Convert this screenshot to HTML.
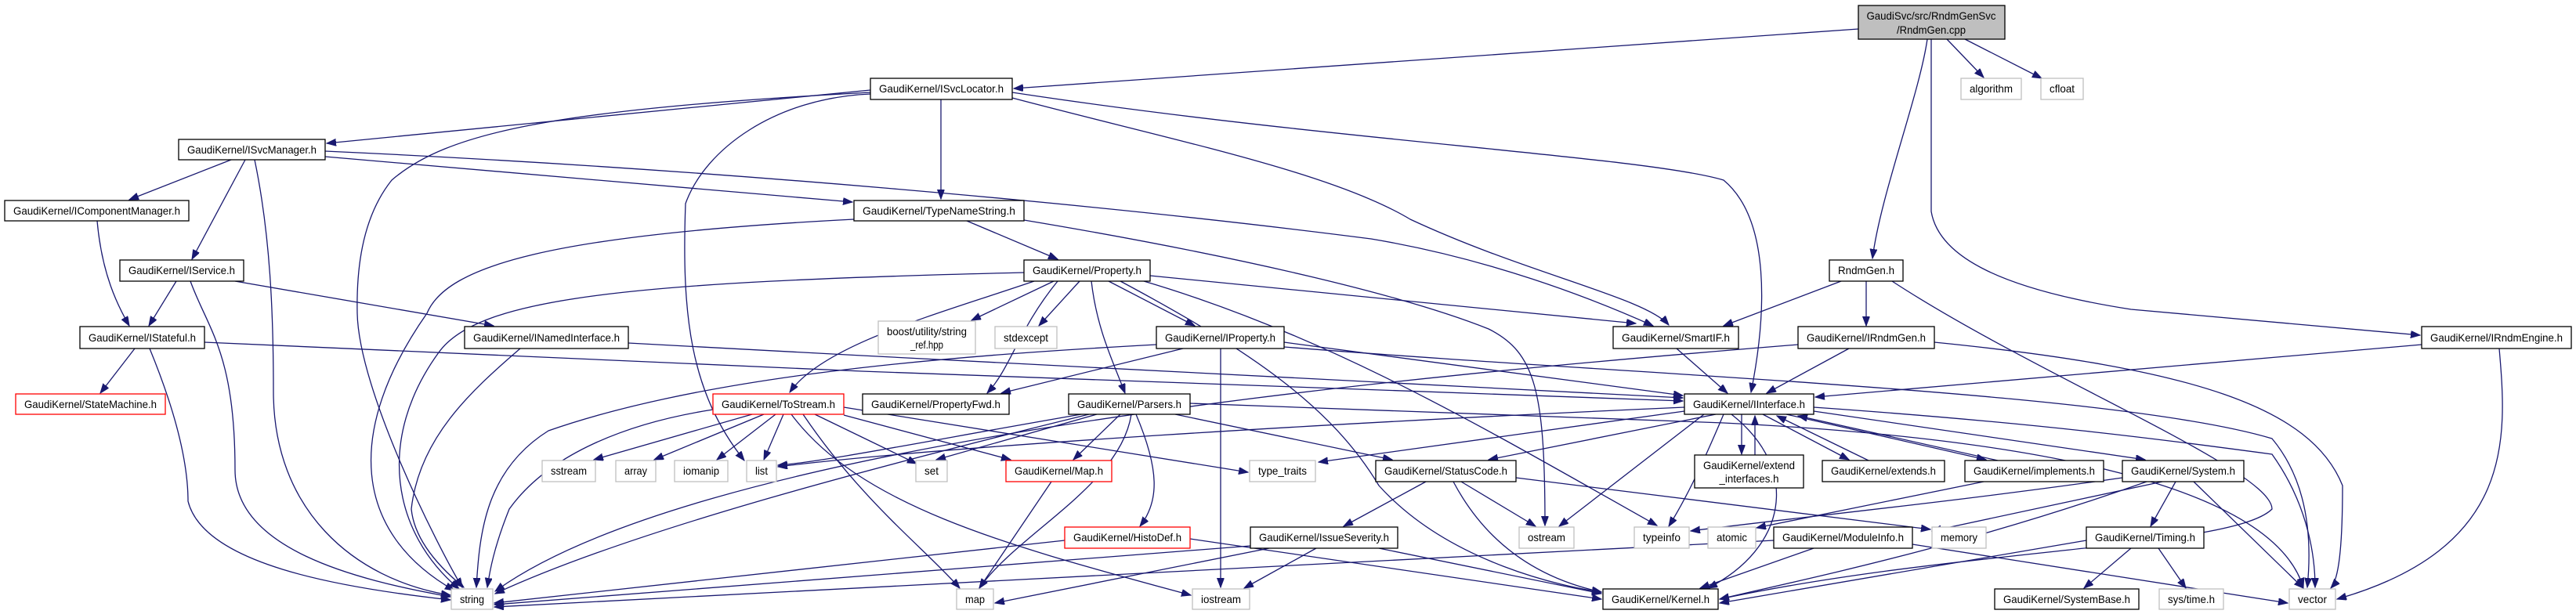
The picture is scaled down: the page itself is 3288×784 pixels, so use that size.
<!DOCTYPE html>
<html><head><meta charset="utf-8"><style>
html,body{margin:0;padding:0;background:#fff;}
svg{display:block}
text{font-family:"Liberation Sans",sans-serif;font-size:14px;fill:#000;text-anchor:middle}
.e{fill:none;stroke:#191970;stroke-width:1.3}
.n{fill:#fff;stroke:#000;stroke-width:1.3}
.g{fill:#fff;stroke:#bfbfbf;stroke-width:1.3}
.r{fill:#fff;stroke:#ff0000;stroke-width:1.3}
</style></head><body>
<svg width="3288" height="784" viewBox="0 0 3288 784" xmlns="http://www.w3.org/2000/svg">
<defs><marker id="a" markerUnits="userSpaceOnUse" markerWidth="13" markerHeight="10" refX="12" refY="4.5" orient="auto"><path d="M0,0 L12,4.5 L0,9 z" fill="#191970" stroke="#191970"/></marker></defs>
<g marker-end="url(#a)">
<path class="e" d="M2372,37 L1294,113"/>
<path class="e" d="M2460,50 C2450,120 2400,250 2390,330"/>
<path class="e" d="M2485,50 L2532,99"/>
<path class="e" d="M2508,50 L2606,100"/>
<path class="e" d="M2465,50 L2465,270 C2475,330 2560,370 2720,395 L3089,428"/>
<path class="e" d="M1111,115 L417,183"/>
<path class="e" d="M1201,127 L1201,254"/>
<path class="e" d="M1111,118 C700,140 570,170 500,230 C460,280 455,350 456,400 C458,500 560,700 590,750"/>
<path class="e" d="M1111,120 C990,125 900,190 875,260 C870,400 880,500 950,588"/>
<path class="e" d="M1292,125 C1500,180 1700,220 1800,280 C1950,350 2100,380 2130,415"/>
<path class="e" d="M1292,118 C1700,180 2100,200 2200,230 C2260,280 2255,400 2235,501"/>
<path class="e" d="M295,204 L165,255"/>
<path class="e" d="M313,204 L245,331"/>
<path class="e" d="M325,204 C345,300 349,400 349,500 C349,650 450,740 575,760"/>
<path class="e" d="M415,200 L1088,258"/>
<path class="e" d="M415,193 C900,215 1400,260 1750,305 C1900,330 2030,380 2110,416"/>
<path class="e" d="M124,282 C130,350 150,390 165,416"/>
<path class="e" d="M225,359 L190,416"/>
<path class="e" d="M300,359 L630,416"/>
<path class="e" d="M243,359 C265,420 300,450 300,600 C300,700 450,740 575,762"/>
<path class="e" d="M172,445 L128,502"/>
<path class="e" d="M191,445 C230,540 240,600 240,640 C260,720 430,750 575,766"/>
<path class="e" d="M261,437 L1100,474 C1600,495 2000,505 2148,512"/>
<path class="e" d="M802,438 L1100,454 C1600,480 2000,500 2148,508"/>
<path class="e" d="M664,445 C600,500 535,560 525,650 C530,700 580,740 592,750"/>
<path class="e" d="M1234,282 L1350,331"/>
<path class="e" d="M1090,280 C700,300 570,340 545,400 C440,550 450,680 580,754"/>
<path class="e" d="M1307,281 C1600,330 1800,380 1900,420 C1960,450 1972,500 1972,671"/>
<path class="e" d="M1307,348 C800,360 610,380 560,450 C480,560 500,680 586,752"/>
<path class="e" d="M1345,359 L1240,409"/>
<path class="e" d="M1378,359 L1326,416"/>
<path class="e" d="M1415,359 L1525,416"/>
<path class="e" d="M1350,359 C1300,420 1290,470 1260,502"/>
<path class="e" d="M1393,359 C1400,420 1420,460 1436,502"/>
<path class="e" d="M1320,359 C1200,400 1050,440 1008,501"/>
<path class="e" d="M1468,352 L2088,413"/>
<path class="e" d="M1460,359 C1700,430 1900,550 2115,671"/>
<path class="e" d="M1430,359 C1600,450 1700,520 1760,620 C1850,720 2000,750 2044,756"/>
<path class="e" d="M1510,445 L1278,502"/>
<path class="e" d="M1558,445 L1558,750"/>
<path class="e" d="M1639,437 L2148,505"/>
<path class="e" d="M1476,440 C1200,455 900,480 700,550 C620,600 612,680 608,750"/>
<path class="e" d="M1639,443 C2100,480 2700,500 2900,560 C2950,620 2950,700 2945,750"/>
<path class="e" d="M1400,529 L1195,587"/>
<path class="e" d="M1430,529 L1370,587"/>
<path class="e" d="M1500,529 L1777,587"/>
<path class="e" d="M1450,529 C1480,600 1480,640 1455,672"/>
<path class="e" d="M1390,529 C1100,600 800,680 632,758"/>
<path class="e" d="M1380,529 C1200,560 1050,590 993,594"/>
<path class="e" d="M1444,529 C1430,620 1300,680 1250,751"/>
<path class="e" d="M1519,515 L2200,540 C2600,560 2900,620 2940,750"/>
<path class="e" d="M960,529 L758,587"/>
<path class="e" d="M975,529 L835,587"/>
<path class="e" d="M990,529 L915,587"/>
<path class="e" d="M1000,529 L975,587"/>
<path class="e" d="M910,523 C800,540 700,580 650,650 C630,700 625,730 622,750"/>
<path class="e" d="M1040,529 L1170,592"/>
<path class="e" d="M1077,530 L1290,587"/>
<path class="e" d="M1077,520 L1593,603"/>
<path class="e" d="M1025,529 C1100,640 1180,700 1225,751"/>
<path class="e" d="M1010,529 C1100,650 1300,700 1520,760"/>
<path class="e" d="M1342,615 L1250,751"/>
<path class="e" d="M1519,688 L2044,765"/>
<path class="e" d="M1359,690 L631,770"/>
<path class="e" d="M1620,700 L1270,770"/>
<path class="e" d="M1680,700 L1588,751"/>
<path class="e" d="M1760,700 L2044,758"/>
<path class="e" d="M1596,697 L631,772"/>
<path class="e" d="M1820,615 L1715,672"/>
<path class="e" d="M1865,615 L1960,672"/>
<path class="e" d="M1855,615 C1900,700 1970,740 2044,756"/>
<path class="e" d="M1935,610 L2464,676"/>
<path class="e" d="M2223,529 L2223,580"/>
<path class="e" d="M2240,581 L2240,531"/>
<path class="e" d="M2250,529 L2360,587"/>
<path class="e" d="M2385,588 L2268,531"/>
<path class="e" d="M2280,529 L2535,587"/>
<path class="e" d="M2550,588 L2295,531"/>
<path class="e" d="M2315,525 L2738,587"/>
<path class="e" d="M2190,529 L1900,587"/>
<path class="e" d="M2150,525 L1683,590"/>
<path class="e" d="M2175,529 L1990,672"/>
<path class="e" d="M2200,529 C2170,600 2150,640 2130,672"/>
<path class="e" d="M2315,520 C2600,540 2750,560 2900,580 C2950,650 2955,720 2955,750"/>
<path class="e" d="M2210,529 C2300,600 2280,700 2180,751"/>
<path class="e" d="M2150,520 C1700,540 1200,570 993,596"/>
<path class="e" d="M2740,615 C2500,700 2300,740 2195,765"/>
<path class="e" d="M2777,615 L2745,672"/>
<path class="e" d="M2800,615 L2940,751"/>
<path class="e" d="M2532,615 L2242,674"/>
<path class="e" d="M2760,615 L2466,678"/>
<path class="e" d="M2709,610 C2500,640 2300,660 2158,678"/>
<path class="e" d="M2720,700 L2660,751"/>
<path class="e" d="M2755,700 L2790,751"/>
<path class="e" d="M2663,690 L2195,770"/>
<path class="e" d="M2315,700 L2170,751"/>
<path class="e" d="M2264,690 L631,775"/>
<path class="e" d="M2441,695 L2920,770"/>
<path class="e" d="M2360,445 L2255,502"/>
<path class="e" d="M2469,437 C2800,470 2950,520 2990,620 C2990,700 2985,740 2975,751"/>
<path class="e" d="M2295,440 C1800,480 900,560 632,755"/>
<path class="e" d="M3091,440 L2317,507"/>
<path class="e" d="M3190,445 C3200,560 3210,700 2983,765"/>
<path class="e" d="M2350,359 L2200,416"/>
<path class="e" d="M2382,359 L2382,416"/>
<path class="e" d="M2415,359 C2600,480 2900,600 2900,650 C2850,700 2500,700 2195,765"/>
<path class="e" d="M2140,445 L2205,502"/>
</g>
<!-- nodes -->
<rect x="2372" y="7" width="187" height="43" fill="#bfbfbf" stroke="#000" stroke-width="1.3"/>
<text x="2465" y="25" textLength="165" lengthAdjust="spacingAndGlyphs">GaudiSvc/src/RndmGenSvc</text>
<text x="2465" y="43" textLength="88" lengthAdjust="spacingAndGlyphs">/RndmGen.cpp</text>

<rect class="n" x="1111" y="100" width="181" height="27"/><text x="1201.5" y="118" textLength="159" lengthAdjust="spacingAndGlyphs">GaudiKernel/ISvcLocator.h</text>
<rect class="g" x="2503" y="100" width="77" height="27"/><text x="2541.5" y="118" textLength="55" lengthAdjust="spacingAndGlyphs">algorithm</text>
<rect class="g" x="2605" y="100" width="54" height="27"/><text x="2632" y="118" textLength="32" lengthAdjust="spacingAndGlyphs">cfloat</text>
<rect class="n" x="228" y="178" width="187" height="26"/><text x="321.5" y="196" textLength="165" lengthAdjust="spacingAndGlyphs">GaudiKernel/ISvcManager.h</text>
<rect class="n" x="6" y="256" width="235" height="26"/><text x="123.5" y="274" textLength="213" lengthAdjust="spacingAndGlyphs">GaudiKernel/IComponentManager.h</text>
<rect class="n" x="1090" y="256" width="217" height="26"/><text x="1198.5" y="274" textLength="195" lengthAdjust="spacingAndGlyphs">GaudiKernel/TypeNameString.h</text>
<rect class="n" x="153" y="332" width="158" height="27"/><text x="232" y="350" textLength="136" lengthAdjust="spacingAndGlyphs">GaudiKernel/IService.h</text>
<rect class="n" x="1307" y="332" width="161" height="27"/><text x="1387.5" y="350" textLength="139" lengthAdjust="spacingAndGlyphs">GaudiKernel/Property.h</text>
<rect class="n" x="2335" y="332" width="94" height="27"/><text x="2382" y="350" textLength="72" lengthAdjust="spacingAndGlyphs">RndmGen.h</text>
<rect class="n" x="102" y="417" width="159" height="28"/><text x="181.5" y="436" textLength="137" lengthAdjust="spacingAndGlyphs">GaudiKernel/IStateful.h</text>
<rect class="n" x="593" y="417" width="209" height="28"/><text x="697.5" y="436" textLength="187" lengthAdjust="spacingAndGlyphs">GaudiKernel/INamedInterface.h</text>
<rect class="g" x="1121" y="410" width="124" height="42"/><text x="1183" y="428" textLength="102" lengthAdjust="spacingAndGlyphs">boost/utility/string</text><text x="1183" y="445" textLength="42" lengthAdjust="spacingAndGlyphs">_ref.hpp</text>
<rect class="g" x="1270" y="417" width="79" height="28"/><text x="1309.5" y="436" textLength="57" lengthAdjust="spacingAndGlyphs">stdexcept</text>
<rect class="n" x="1476" y="417" width="163" height="28"/><text x="1557.5" y="436" textLength="141" lengthAdjust="spacingAndGlyphs">GaudiKernel/IProperty.h</text>
<rect class="n" x="2059" y="417" width="160" height="28"/><text x="2139" y="436" textLength="138" lengthAdjust="spacingAndGlyphs">GaudiKernel/SmartIF.h</text>
<rect class="n" x="2295" y="417" width="174" height="28"/><text x="2382" y="436" textLength="152" lengthAdjust="spacingAndGlyphs">GaudiKernel/IRndmGen.h</text>
<rect class="n" x="3091" y="417" width="191" height="28"/><text x="3186.5" y="436" textLength="169" lengthAdjust="spacingAndGlyphs">GaudiKernel/IRndmEngine.h</text>
<rect class="r" x="20" y="503" width="191" height="26"/><text x="115.5" y="521" textLength="169" lengthAdjust="spacingAndGlyphs">GaudiKernel/StateMachine.h</text>
<rect class="r" x="910" y="503" width="167" height="26"/><text x="993.5" y="521" textLength="145" lengthAdjust="spacingAndGlyphs">GaudiKernel/ToStream.h</text>
<rect class="n" x="1101" y="503" width="187" height="26"/><text x="1194.5" y="521" textLength="165" lengthAdjust="spacingAndGlyphs">GaudiKernel/PropertyFwd.h</text>
<rect class="n" x="1364" y="503" width="155" height="26"/><text x="1441.5" y="521" textLength="133" lengthAdjust="spacingAndGlyphs">GaudiKernel/Parsers.h</text>
<rect class="n" x="2150" y="503" width="165" height="26"/><text x="2232.5" y="521" textLength="143" lengthAdjust="spacingAndGlyphs">GaudiKernel/IInterface.h</text>
<rect class="g" x="692" y="588" width="68" height="27"/><text x="726" y="606" textLength="46" lengthAdjust="spacingAndGlyphs">sstream</text>
<rect class="g" x="786" y="588" width="51" height="27"/><text x="811.5" y="606" textLength="29" lengthAdjust="spacingAndGlyphs">array</text>
<rect class="g" x="861" y="588" width="68" height="27"/><text x="895" y="606" textLength="46" lengthAdjust="spacingAndGlyphs">iomanip</text>
<rect class="g" x="953" y="588" width="38" height="27"/><text x="972" y="606" textLength="16" lengthAdjust="spacingAndGlyphs">list</text>
<rect class="g" x="1169" y="588" width="40" height="27"/><text x="1189" y="606" textLength="18" lengthAdjust="spacingAndGlyphs">set</text>
<rect class="r" x="1284" y="588" width="135" height="27"/><text x="1351.5" y="606" textLength="113" lengthAdjust="spacingAndGlyphs">GaudiKernel/Map.h</text>
<rect class="g" x="1595" y="588" width="84" height="27"/><text x="1637" y="606" textLength="62" lengthAdjust="spacingAndGlyphs">type_traits</text>
<rect class="n" x="1756" y="588" width="179" height="27"/><text x="1845.5" y="606" textLength="157" lengthAdjust="spacingAndGlyphs">GaudiKernel/StatusCode.h</text>
<rect class="n" x="2163" y="581" width="139" height="42"/><text x="2232.5" y="599" textLength="117" lengthAdjust="spacingAndGlyphs">GaudiKernel/extend</text><text x="2232.5" y="616" textLength="76" lengthAdjust="spacingAndGlyphs">_interfaces.h</text>
<rect class="n" x="2326" y="588" width="156" height="27"/><text x="2404" y="606" textLength="134" lengthAdjust="spacingAndGlyphs">GaudiKernel/extends.h</text>
<rect class="n" x="2508" y="588" width="177" height="27"/><text x="2596.5" y="606" textLength="155" lengthAdjust="spacingAndGlyphs">GaudiKernel/implements.h</text>
<rect class="n" x="2709" y="588" width="155" height="27"/><text x="2786.5" y="606" textLength="133" lengthAdjust="spacingAndGlyphs">GaudiKernel/System.h</text>
<rect class="r" x="1359" y="673" width="160" height="27"/><text x="1439" y="691" textLength="138" lengthAdjust="spacingAndGlyphs">GaudiKernel/HistoDef.h</text>
<rect class="n" x="1596" y="673" width="188" height="27"/><text x="1690" y="691" textLength="166" lengthAdjust="spacingAndGlyphs">GaudiKernel/IssueSeverity.h</text>
<rect class="g" x="1939" y="673" width="70" height="27"/><text x="1974" y="691" textLength="48" lengthAdjust="spacingAndGlyphs">ostream</text>
<rect class="g" x="2086" y="673" width="70" height="27"/><text x="2121" y="691" textLength="48" lengthAdjust="spacingAndGlyphs">typeinfo</text>
<rect class="g" x="2180" y="673" width="61" height="27"/><text x="2210.5" y="691" textLength="39" lengthAdjust="spacingAndGlyphs">atomic</text>
<rect class="n" x="2264" y="673" width="177" height="27"/><text x="2352.5" y="691" textLength="155" lengthAdjust="spacingAndGlyphs">GaudiKernel/ModuleInfo.h</text>
<rect class="g" x="2466" y="673" width="69" height="27"/><text x="2500.5" y="691" textLength="47" lengthAdjust="spacingAndGlyphs">memory</text>
<rect class="n" x="2663" y="673" width="150" height="27"/><text x="2738" y="691" textLength="128" lengthAdjust="spacingAndGlyphs">GaudiKernel/Timing.h</text>
<rect class="g" x="576" y="752" width="53" height="26"/><text x="602.5" y="770" textLength="31" lengthAdjust="spacingAndGlyphs">string</text>
<rect class="g" x="1221" y="752" width="47" height="26"/><text x="1244.5" y="770" textLength="25" lengthAdjust="spacingAndGlyphs">map</text>
<rect class="g" x="1522" y="752" width="73" height="26"/><text x="1558.5" y="770" textLength="51" lengthAdjust="spacingAndGlyphs">iostream</text>
<rect class="n" x="2046" y="752" width="147" height="26"/><text x="2119.5" y="770" textLength="125" lengthAdjust="spacingAndGlyphs">GaudiKernel/Kernel.h</text>
<rect class="n" x="2546" y="752" width="184" height="26"/><text x="2638" y="770" textLength="162" lengthAdjust="spacingAndGlyphs">GaudiKernel/SystemBase.h</text>
<rect class="g" x="2756" y="752" width="82" height="26"/><text x="2797" y="770" textLength="60" lengthAdjust="spacingAndGlyphs">sys/time.h</text>
<rect class="g" x="2922" y="752" width="59" height="26"/><text x="2951.5" y="770" textLength="37" lengthAdjust="spacingAndGlyphs">vector</text>
</svg>
</body></html>
